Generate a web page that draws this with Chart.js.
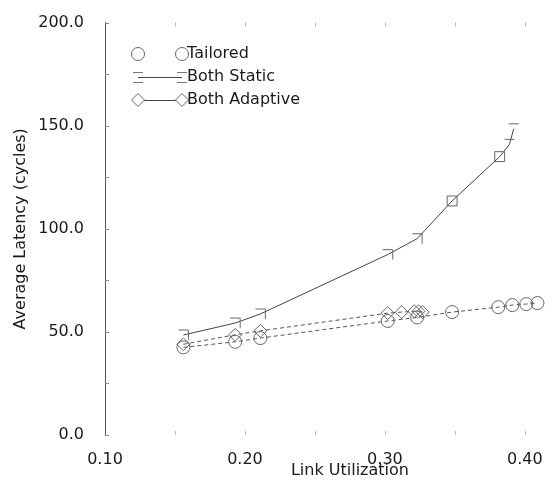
<!DOCTYPE html>
<html><head><meta charset="utf-8">
<script src="https://cdn.jsdelivr.net/npm/chart.js@4/dist/chart.umd.min.js"></script>
<style>html,body{margin:0;padding:0;background:#fff}#wrap{width:555px;height:485px}</style>
</head><body><div id="wrap"><canvas id="c" width="555" height="485"></canvas></div>
<script>
// ---- data ----
const xTickValues = [0.10, 0.20, 0.30, 0.40];
const yTickValues = [0, 50, 100, 150, 200];
const seriesNames = ['Tailored', 'Both Static', 'Both Adaptive'];
const xAxisTitle = 'Link Utilization';
const yAxisTitle = 'Average Latency (cycles)';

const tailoredX = [0.156, 0.193, 0.211, 0.302, 0.323, 0.348, 0.381, 0.391, 0.401, 0.409];
const tailoredY = [42.5, 45.2, 47.0, 55.3, 57.0, 59.6, 62.0, 63.0, 63.5, 64.0];

const staticX = [0.156, 0.193, 0.211, 0.302, 0.323, 0.348, 0.382, 0.389, 0.392];
const staticY = [48.5, 54.3, 58.7, 87.5, 95.2, 113.5, 135.0, 141.0, 148.5];

const adaptiveX = [0.156, 0.193, 0.211, 0.302, 0.312, 0.321, 0.324, 0.327];
const adaptiveY = [44.0, 48.6, 50.5, 59.1, 59.6, 60.0, 60.0, 59.6];

const toPts = (xs, ys) => xs.map((x, i) => ({x: x, y: ys[i]}));

// ---- marker glyphs ----
function makeMarker(kind) {
  const c = document.createElement('canvas');
  c.width = 13; c.height = 13;
  const g = c.getContext('2d');
  g.strokeStyle = '#666'; g.lineWidth = 1;
  g.beginPath();
  if (kind === 'hook') { g.moveTo(1.5, 1.5); g.lineTo(11.5, 1.5); g.lineTo(11.5, 11.5); }
  else if (kind === 'dash') { g.moveTo(1.5, 1.5); g.lineTo(11.5, 1.5); }
  g.stroke();
  return c;
}
const hook = makeMarker('hook');
const dash = makeMarker('dash');
const staticStyles = [hook, hook, hook, hook, hook, 'rect', 'rect', dash, dash];

const FONT = 'DejaVu Sans';
const FS = 16;
const TXT = '#1a1a1a';

const innerTicks = {
  id: 'innerTicks',
  afterDraw(chart) {
    const {ctx, chartArea: a, scales: {x, y}} = chart;
    ctx.save();
    ctx.lineWidth = 1;
    ctx.strokeStyle = '#888';
    for (let v = 0; v <= 200; v += 25) {
      const py = Math.round(y.getPixelForValue(v)) + 0.5;
      ctx.beginPath(); ctx.moveTo(a.left, py); ctx.lineTo(a.left + 4, py); ctx.stroke();
    }
    ctx.strokeStyle = '#bbb';
    for (let k = 3; k <= 8; k++) {
      const px = Math.round(x.getPixelForValue(k * 0.05)) + 0.5;
      ctx.beginPath(); ctx.moveTo(px, a.top); ctx.lineTo(px, a.top + 4); ctx.stroke();
      ctx.beginPath(); ctx.moveTo(px, a.bottom - 4); ctx.lineTo(px, a.bottom); ctx.stroke();
    }
    // x axis title
    ctx.fillStyle = TXT;
    ctx.font = FS + 'px "' + FONT + '"';
    ctx.textAlign = 'center';
    ctx.textBaseline = 'middle';
    ctx.fillText(xAxisTitle, x.getPixelForValue(0.275), 471);
    ctx.restore();
  }
};

const legendPlugin = {
  id: 'customLegend',
  afterDraw(chart) {
    const ctx = chart.ctx;
    const x1 = 138, x2 = 182, tx = 187;
    const rows = [54, 77, 100];
    ctx.save();
    ctx.lineWidth = 1;
    // Tailored
    ctx.strokeStyle = '#666';
    [x1, x2].forEach(px => { ctx.beginPath(); ctx.arc(px, rows[0], 6.5, 0, Math.PI * 2); ctx.stroke(); });
    // Both Static
    ctx.strokeStyle = '#444';
    ctx.beginPath(); ctx.moveTo(x1, rows[1] + 0.5); ctx.lineTo(x2, rows[1] + 0.5); ctx.stroke();
    ctx.strokeStyle = '#777';
    [x1, x2].forEach(px => {
      ctx.beginPath(); ctx.moveTo(px - 5, rows[1] - 4.5); ctx.lineTo(px + 5, rows[1] - 4.5); ctx.stroke();
      ctx.beginPath(); ctx.moveTo(px - 5, rows[1] + 5.5); ctx.lineTo(px + 5, rows[1] + 5.5); ctx.stroke();
    });
    // Both Adaptive
    ctx.strokeStyle = '#444';
    ctx.beginPath(); ctx.moveTo(x1 + 6, rows[2] + 0.5); ctx.lineTo(x2 - 6, rows[2] + 0.5); ctx.stroke();
    ctx.strokeStyle = '#666';
    [x1, x2].forEach(px => {
      ctx.beginPath();
      ctx.moveTo(px - 6.5, rows[2]); ctx.lineTo(px, rows[2] - 6.5);
      ctx.lineTo(px + 6.5, rows[2]); ctx.lineTo(px, rows[2] + 6.5); ctx.closePath(); ctx.stroke();
    });
    ctx.fillStyle = TXT;
    ctx.font = FS + 'px "' + FONT + '"';
    ctx.textAlign = 'left';
    ctx.textBaseline = 'middle';
    seriesNames.forEach((n, i) => ctx.fillText(n, tx, rows[i]));
    ctx.restore();
  }
};

new Chart(document.getElementById('c'), {
  type: 'scatter',
  data: {
    datasets: [
      {
        label: seriesNames[0], data: toPts(tailoredX, tailoredY), showLine: true,
        borderColor: '#555', borderWidth: 1, borderDash: [4, 3],
        pointStyle: 'circle', pointRadius: 6.5, pointBorderColor: '#666',
        pointBackgroundColor: 'rgba(0,0,0,0)', pointBorderWidth: 1, clip: false
      },
      {
        label: seriesNames[1], data: toPts(staticX, staticY), showLine: true,
        borderColor: '#444', borderWidth: 1, tension: 0,
        pointStyle: staticStyles, pointRadius: 7, pointBorderColor: '#666',
        pointBackgroundColor: 'rgba(0,0,0,0)', pointBorderWidth: 1, clip: false
      },
      {
        label: seriesNames[2], data: toPts(adaptiveX, adaptiveY), showLine: true,
        borderColor: '#555', borderWidth: 1, borderDash: [4, 3],
        pointStyle: 'rectRot', pointRadius: 6.5, pointBorderColor: '#666',
        pointBackgroundColor: 'rgba(0,0,0,0)', pointBorderWidth: 1, clip: false
      }
    ]
  },
  options: {
    responsive: false,
    devicePixelRatio: 1,
    animation: false,
    layout: {padding: {top: 18, right: 0, left: 0, bottom: 0}},
    plugins: {legend: {display: false}, tooltip: {enabled: false}},
    scales: {
      x: {
        type: 'linear', min: 0.10, max: 0.4158,
        grid: {display: false}, border: {display: false},
        afterBuildTicks: s => { s.ticks = xTickValues.map(v => ({value: v})); },
        afterFit: s => { s.height = 50; },
        ticks: {padding: 7, color: TXT, font: {family: FONT, size: FS}, callback: v => Number(v).toFixed(2), maxRotation: 0, autoSkip: false}
      },
      y: {
        type: 'linear', min: 0, max: 200,
        grid: {display: false}, border: {display: true, color: '#555', width: 1},
        afterBuildTicks: s => { s.ticks = yTickValues.map(v => ({value: v})); },
        afterFit: s => { s.width = 105; },
        ticks: {padding: 13, color: TXT, font: {family: FONT, size: FS}, callback: v => Number(v).toFixed(1)},
        title: {display: true, text: yAxisTitle, color: TXT, font: {family: FONT, size: FS}, padding: {top: 11, bottom: 0}}
      }
    }
  },
  plugins: [innerTicks, legendPlugin]
});
</script>
</body></html>
